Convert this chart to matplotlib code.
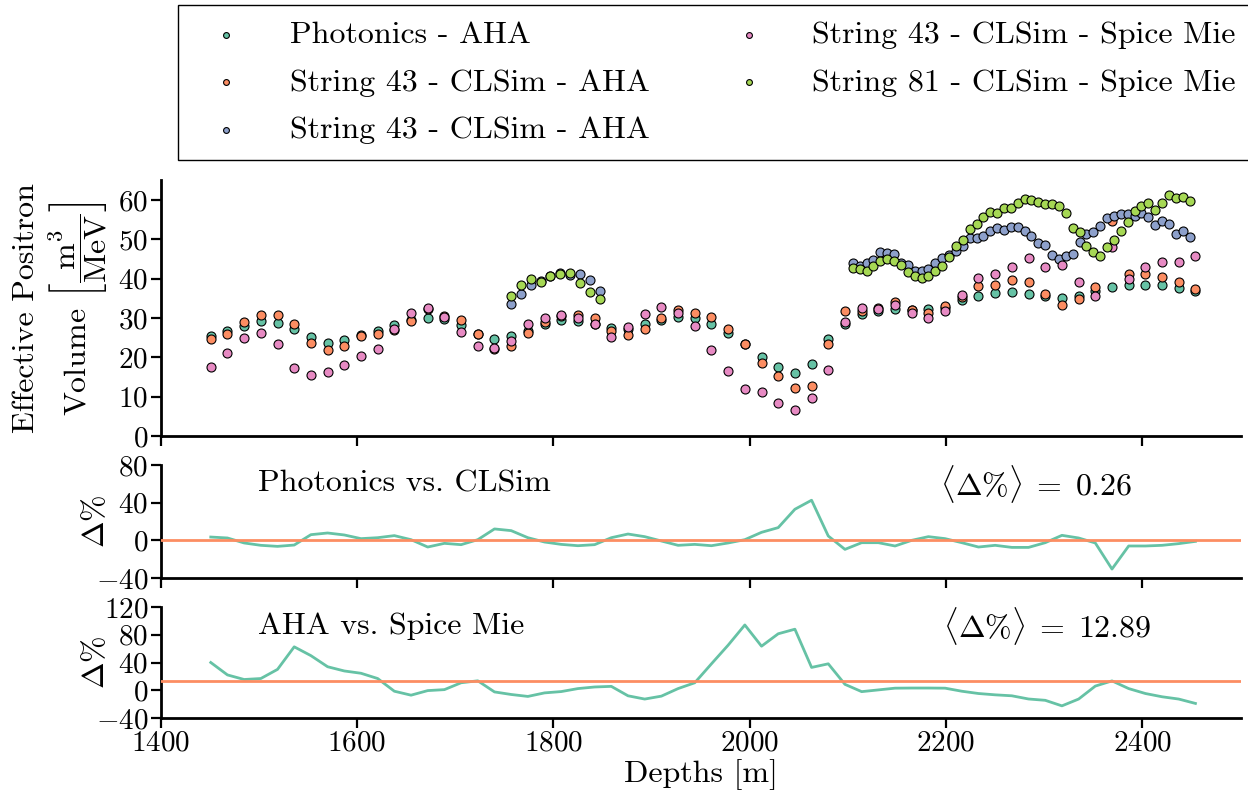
import matplotlib
matplotlib.use("Agg")
import matplotlib.pyplot as plt

plt.rcParams["font.family"] = "serif"
plt.rcParams["font.serif"] = ["cmr10"]
plt.rcParams["mathtext.fontset"] = "cm"
plt.rcParams["axes.formatter.use_mathtext"] = True

# DOM depths on string 43 (17 m spacing)
depths = [1451, 1468, 1485, 1502, 1519, 1536, 1553, 1570, 1587, 1604,
          1621, 1638, 1655, 1672, 1689, 1706, 1723, 1740, 1757, 1774,
          1791, 1808, 1825, 1842, 1859, 1876, 1893, 1910, 1927, 1944,
          1961, 1978, 1995, 2012, 2029, 2046, 2063, 2080, 2097, 2114,
          2131, 2148, 2165, 2182, 2199, 2216, 2233, 2250, 2267, 2284,
          2301, 2318, 2335, 2352, 2369, 2386, 2403, 2420, 2437, 2454]

# DeepCore DOM depths (veto cap at 10 m, deep section at 7 m)
deepcore_depths = [1757, 1767, 1777, 1787, 1797, 1807, 1817, 1827, 1837, 1847,
                   2105, 2112, 2119, 2126, 2133, 2140, 2147, 2154, 2161, 2168,
                   2175, 2182, 2189, 2196, 2203, 2210, 2217, 2224, 2231, 2238,
                   2245, 2252, 2259, 2266, 2273, 2280, 2287, 2294, 2301, 2308,
                   2315, 2322, 2329, 2336, 2343, 2350, 2357, 2364, 2371, 2378,
                   2385, 2392, 2399, 2406, 2413, 2420, 2427, 2434, 2441, 2448]

photonics_aha = [25.5, 26.7, 28.1, 29.2, 28.7, 27.1, 25.1, 23.7, 24.4, 25.6,
                 26.7, 28.2, 29.5, 30.1, 29.7, 28.2, 25.9, 24.8, 25.4, 26.8,
                 28.4, 29.4, 29.2, 28.6, 27.4, 27.3, 28.4, 29.6, 30.2, 30.0,
                 28.5, 26.2, 23.5, 20.1, 17.5, 16.1, 18.3, 24.7, 28.6, 31.0,
                 31.8, 32.2, 32.1, 32.4, 32.6, 34.6, 35.7, 36.5, 36.7, 36.2,
                 35.6, 35.2, 35.6, 36.8, 37.9, 38.5, 38.5, 38.3, 37.7, 37.0]

s43_clsim_aha = [24.6, 26.0, 28.9, 30.7, 30.7, 28.4, 23.7, 21.9, 23.0, 25.4,
                 26.0, 26.9, 29.3, 32.4, 30.6, 29.5, 25.9, 22.1, 22.8, 26.1,
                 28.9, 30.6, 30.8, 30.0, 26.8, 25.6, 27.3, 30.1, 32.0, 31.2,
                 30.2, 27.1, 23.3, 18.5, 15.3, 12.1, 12.8, 23.3, 31.7, 31.8,
                 32.6, 34.1, 32.1, 31.2, 33.1, 35.4, 38.2, 38.4, 39.6, 39.1,
                 36.1, 33.4, 34.8, 37.9, 54.7, 41.1, 41.2, 40.5, 39.2, 37.4]

s43_clsim_spice = [17.6, 21.2, 25.0, 26.1, 23.4, 17.4, 15.6, 16.4, 18.1, 20.3,
                   22.2, 27.1, 31.4, 32.5, 30.2, 26.4, 22.8, 22.5, 24.1, 28.5,
                   30.0, 30.9, 30.0, 28.4, 25.2, 27.8, 31.1, 32.8, 31.2, 27.9,
                   21.9, 16.5, 11.9, 11.3, 8.4, 6.5, 9.6, 16.8, 29.1, 32.5,
                   32.4, 33.2, 31.2, 30.1, 31.8, 35.8, 40.2, 41.2, 43.0, 45.4,
                   43.1, 43.5, 39.3, 35.7, 48.1, 40.0, 43.0, 44.3, 44.3, 45.7]

deepcore_clsim_aha = [33.5, 36.0, 38.4, 39.4, 40.8, 41.4, 40.9, 41.1, 39.6, 37.0,
                      44.1, 43.2, 44.1, 44.7, 46.8, 46.6, 46.3, 44.0, 43.5, 42.1,
                      41.9, 42.4, 44.1, 45.4, 46.1, 47.1, 48.4, 50.3, 50.4, 50.8,
                      52.1, 52.9, 52.3, 53.1, 53.1, 52.1, 51.0, 49.2, 48.5, 46.1,
                      45.1, 45.8, 46.4, 49.4, 51.5, 52.0, 53.5, 55.4, 55.9, 56.5,
                      56.4, 55.9, 56.7, 55.7, 53.6, 54.7, 53.9, 51.3, 52.2, 50.7]

s81_clsim_spice = [35.6, 38.5, 40.0, 39.2, 40.6, 41.2, 41.4, 39.0, 36.7, 34.8,
                   42.8, 42.5, 42.1, 43.2, 44.5, 45.0, 44.6, 43.5, 41.8, 40.7,
                   40.2, 40.8, 41.9, 43.2, 45.5, 48.4, 49.8, 52.7, 53.9, 55.8,
                   57.0, 56.8, 58.1, 58.0, 59.3, 60.4, 60.0, 59.6, 59.0, 59.0,
                   58.4, 56.8, 53.0, 51.8, 48.4, 46.7, 45.7, 48.0, 49.8, 52.2,
                   54.4, 57.3, 58.6, 59.2, 57.6, 59.2, 61.2, 60.6, 60.9, 59.8]

# Relative differences in percent
delta_photonics_clsim = [3.5, 2.5, -2.8, -5.3, -6.4, -5.0, 6.0, 7.8, 5.7, 1.8,
                         2.8, 5.0, 0.7, -7.1, -3.2, -4.6, 0.7, 12.1, 10.3, 2.8,
                         -1.8, -4.3, -5.7, -4.6, 2.8, 6.7, 3.9, -0.7, -5.3, -4.3,
                         -5.7, -2.8, 0.7, 8.5, 13.5, 33.0, 42.6, 4.6, -9.6, -2.5,
                         -2.5, -6.0, 0.0, 3.9, 1.8, -2.5, -7.1, -5.3, -7.5, -7.5,
                         -2.5, 5.3, 2.5, -2.8, -30.5, -6.0, -6.0, -5.3, -3.5, -1.1]

delta_aha_spice = [40.0, 22.1, 15.5, 16.9, 30.1, 62.6, 49.9, 33.9, 27.8, 24.5,
                   16.9, -1.4, -7.1, -0.5, 0.9, 10.8, 13.6, -2.4, -6.1, -8.9,
                   -3.8, -1.9, 2.4, 4.7, 5.6, -8.0, -12.7, -8.5, 2.4, 10.8,
                   38.1, 65.0, 94.1, 63.5, 81.4, 88.0, 32.9, 38.1, 8.5, -2.0,
                   0.5, 3.0, 3.2, 3.2, 3.0, -1.4, -4.7, -6.6, -8.0, -12.6,
                   -14.5, -22.5, -12.7, 6.0, 13.5, 2.4, -4.7, -9.4, -12.7, -19.0]

mean_photonics_clsim = 0.26
mean_aha_spice = 12.89

labels = ["Photonics - AHA", "String 43 - CLSim - AHA", "String 43 - CLSim - AHA",
          "String 43 - CLSim - Spice Mie", "String 81 - CLSim - Spice Mie"]
colors = ["#66c2a5", "#fc8d62", "#8da0cb", "#e78ac3", "#a6d854"]

FS = 23
TICK_FS = 21

fig = plt.figure(figsize=(12.48, 7.98), dpi=100)
W, H = 1248.0, 798.0
x0, x1 = 160.7, 1240.6


def axes_box(top_px, bottom_px):
    return [x0 / W, 1 - bottom_px / H, (x1 - x0) / W, (bottom_px - top_px) / H]


ax_top = fig.add_axes(axes_box(180.5, 436.0))
ax_d1 = fig.add_axes(axes_box(465.0, 578.0), sharex=ax_top)
ax_d2 = fig.add_axes(axes_box(607.0, 718.0), sharex=ax_top)

series = [(depths, photonics_aha), (depths, s43_clsim_aha),
          (deepcore_depths, deepcore_clsim_aha), (depths, s43_clsim_spice),
          (deepcore_depths, s81_clsim_spice)]
handles = []
for (xs, ys), col, lab in zip(series, colors, labels):
    h = ax_top.scatter(xs, ys, s=42, c=col, edgecolors="black",
                       linewidths=0.8, label=lab, zorder=3)
    handles.append(h)

for ax in (ax_top, ax_d1, ax_d2):
    for side in ("top", "right"):
        ax.spines[side].set_visible(False)
    for side in ("left", "bottom"):
        ax.spines[side].set_linewidth(2.0)
    ax.tick_params(direction="out", length=7, width=1.6, labelsize=TICK_FS, pad=2)
    ax.set_xlim(1400, 2500)
    ax.set_xticks([1400, 1600, 1800, 2000, 2200, 2400])

ax_top.set_ylim(0, 65)
ax_top.set_yticks([0, 10, 20, 30, 40, 50, 60])
ax_top.tick_params(labelbottom=False)
ax_top.set_ylabel("Effective Positron\n" +
                  r"Volume $\left[\dfrac{\mathrm{m}^3}{\mathrm{MeV}}\right]$",
                  fontsize=FS, linespacing=1.15)
ax_top.yaxis.set_label_coords(-0.047, 0.5)

for ax, delta, mean, title in ((ax_d1, delta_photonics_clsim, mean_photonics_clsim,
                                "Photonics vs. CLSim"),
                               (ax_d2, delta_aha_spice, mean_aha_spice,
                                "AHA vs. Spice Mie")):
    ax.plot(depths, delta, color=colors[0], lw=2.0, zorder=2)
    ax.axhline(mean, color=colors[1], lw=2.0, zorder=3)
    ax.text(0.09, 0.83, title, transform=ax.transAxes, fontsize=FS,
            ha="left", va="center")
    ax.set_ylabel(r"$\Delta\%$", fontsize=FS)
    ax.yaxis.set_label_coords(-0.047, 0.5)

mean_fmt = r"$\langle\Delta\%\rangle\;=\;{:.2f}$"
ax_d1.text(0.722, 0.83, mean_fmt.format(mean_photonics_clsim),
           transform=ax_d1.transAxes, fontsize=FS, ha="left", va="center")
ax_d2.text(0.724, 0.83, mean_fmt.format(mean_aha_spice),
           transform=ax_d2.transAxes, fontsize=FS, ha="left", va="center")

ax_d1.set_ylim(-40, 80)
ax_d1.set_yticks([-40, 0, 40, 80])
ax_d1.tick_params(labelbottom=False)
ax_d2.set_ylim(-40, 120)
ax_d2.set_yticks([-40, 0, 40, 80, 120])
ax_d2.set_xlabel("Depths [m]", fontsize=FS, labelpad=2)

leg = fig.legend(handles, labels, loc="upper left",
                 bbox_to_anchor=(178 / W, 1 - 5 / H), ncol=2, fontsize=FS,
                 frameon=True, fancybox=False, framealpha=1.0,
                 edgecolor="black", markerscale=0.65, handlelength=2.0,
                 handletextpad=1.0, columnspacing=2.1, borderpad=0.5,
                 labelspacing=0.6, borderaxespad=0.0)
leg.get_frame().set_linewidth(1.0)

fig.savefig("out.png", dpi=100)
